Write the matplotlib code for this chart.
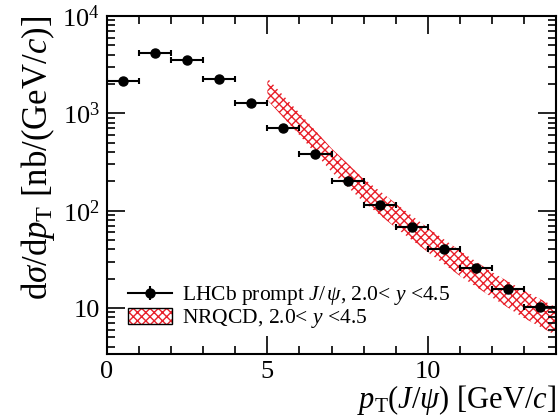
import numpy as np
import matplotlib
matplotlib.use("Agg")
import matplotlib.pyplot as plt
import matplotlib.patches as mpatches
from matplotlib.lines import Line2D
from matplotlib.ticker import FixedLocator, FixedFormatter, NullFormatter

plt.rcParams["font.family"] = ["Liberation Serif", "DejaVu Serif"]
plt.rcParams["mathtext.fontset"] = "custom"
plt.rcParams["mathtext.rm"] = "Liberation Serif"
plt.rcParams["mathtext.it"] = "Liberation Serif:italic"
plt.rcParams["hatch.linewidth"] = 1.0

RED = "#e8202a"

# LHCb prompt J/psi points
pt = [0.5, 1.5, 2.5, 3.5, 4.5, 5.5, 6.5, 7.5, 8.5, 9.5, 10.5, 11.5, 12.5, 13.5]
pt_err = [0.5] * 14
xsec = [2160, 4200, 3530, 2250, 1276, 706, 379, 201, 115, 67.3, 40.6, 25.5, 15.6, 10.3]
xsec_err = [90, 170, 140, 90, 50, 28, 15, 8, 5, 3, 2, 1.3, 0.9, 0.7]

# NRQCD band
nrqcd_pt = [5, 6, 7, 8, 9, 10, 11, 12, 13, 14]
nrqcd_hi = [2300, 1010, 437, 214, 119, 66.8, 38.9, 23.4, 15.1, 10.2]
nrqcd_lo = [1370, 596, 251, 123, 66.8, 37.6, 21.4, 12.9, 7.9, 5.25]

fig = plt.figure(figsize=(5.58, 4.19), dpi=100)
ax = fig.add_axes([0.1918, 0.1551, 0.8046, 0.8067])

ax.fill_between(nrqcd_pt, nrqcd_lo, nrqcd_hi, facecolor="none",
                edgecolor=RED, linewidth=0, hatch="xxxx")
ax.errorbar(pt, xsec, xerr=pt_err, yerr=xsec_err, fmt="o", color="black",
            markersize=6.5, capsize=2.5, elinewidth=1.5, capthick=1.5)

ax.set_yscale("log")
ax.set_xlim(0, 14)
ax.set_ylim(3.37, 1e4)

ax.xaxis.set_major_locator(FixedLocator([0, 5, 10]))
ax.xaxis.set_minor_locator(FixedLocator([1, 2, 3, 4, 6, 7, 8, 9, 11, 12, 13]))
ax.yaxis.set_major_locator(FixedLocator([10, 100, 1000, 10000]))
ax.yaxis.set_major_formatter(FixedFormatter(["10", r"$10^{2}$", r"$10^{3}$", r"$10^{4}$"]))
ax.yaxis.set_minor_formatter(NullFormatter())
ax.tick_params(which="both", direction="in", top=True, right=True, labelsize=19, width=1.2)
ax.tick_params(which="major", length=13)
ax.tick_params(which="minor", length=6)
ax.tick_params(axis="x", pad=5)
ax.tick_params(axis="y", pad=5)
for s in ax.spines.values():
    s.set_linewidth(1.5)

ax.set_xlabel(r"$p_{\rm T}(J/\psi)$ [GeV/$c$]", fontsize=22, loc="right", labelpad=0)
ax.set_ylabel(r"d$\sigma$/d$p_{\rm T}$ [nb/(GeV/$c$)]", fontsize=25, loc="top", labelpad=4)

# legend handles
h_data = (Line2D([], [], color="black", marker="o", markersize=6.5, linewidth=1.5),
          Line2D([], [], color="black", marker="|", markersize=10, markeredgewidth=1.5,
                 linestyle="none"))
h_band = (mpatches.Patch(facecolor="white", edgecolor=RED, linewidth=0, hatch="xxxx"),
          mpatches.Patch(facecolor="none", edgecolor="black", linewidth=1.0))
ax.legend([h_data, h_band],
          [r"LHCb prompt $J/\,\psi$, 2.0< $y$ <4.5", r"NRQCD, 2.0< $y$ <4.5"],
          loc="lower left", bbox_to_anchor=(0.047, 0.07),
          frameon=False, fontsize=15.5, handlelength=2.05, handleheight=0.75,
          handletextpad=0.45, labelspacing=0.0, borderaxespad=0, borderpad=0)

fig.savefig("out.png", dpi=100)
